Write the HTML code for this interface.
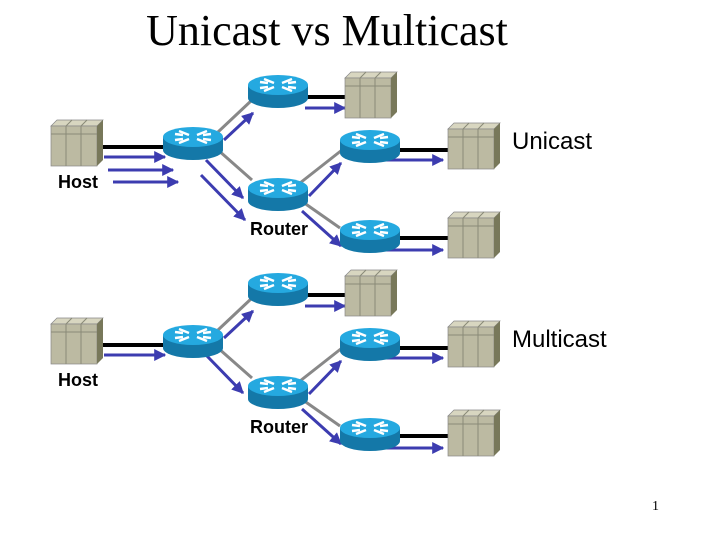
<!DOCTYPE html>
<html><head><meta charset="utf-8"><style>
body{margin:0;background:#fff;width:720px;height:540px;overflow:hidden}
svg{display:block}
</style></head><body>
<svg width="720" height="540" viewBox="0 0 720 540" xmlns="http://www.w3.org/2000/svg">
<defs>
<marker id="ah" viewBox="0 0 10 10" refX="9" refY="5" markerWidth="4" markerHeight="4" orient="auto"><path d="M0,0 L10,5 L0,10 z" fill="#3c3cb0"/></marker>
<g id="rt">
<path d="M-30,-5 L-30,8 A30,10 0 0 0 30,8 L30,-5 Z" fill="#1478a8"/>
<ellipse cx="0" cy="-5" rx="30" ry="10" fill="#25a9e0"/>
<g stroke="#fff" stroke-width="2.5" fill="none">
<path d="M-14,-11 L-4,-7 M14,-11 L4,-7 M-14,1 L-4,-3 M14,1 L4,-3"/>
<path d="M-18,-8 L-10,-7 M18,-8 L10,-7 M-18,-2 L-10,-3 M18,-2 L10,-3"/>
</g>
</g>
<g id="sv">
<path d="M0,6 L6,0 L52,0 L46,6 Z" fill="#d8d6c0" stroke="#888" stroke-width="0.7"/>
<rect x="0" y="6" width="46" height="40" fill="#bcbaa2" stroke="#888" stroke-width="0.7"/>
<path d="M46,6 L52,0 L52,40 L46,46 Z" fill="#78785a"/>
<path d="M0,14 L46,14 M15,6 L15,46 M30,6 L30,46 M21,0 L15,6 M36,0 L30,6" stroke="#8a8a78" stroke-width="1"/>
</g>
</defs>
<text x="327" y="45" font-family="Liberation Serif,serif" font-size="44" text-anchor="middle">Unicast vs Multicast</text>

<!-- UNICAST -->
<g>
<g stroke="#888" stroke-width="3"><path d="M218,132 L252,100 M218,150 L252,180 M300,183 L342,150 M300,200 L340,228"/></g>
<g stroke="#000" stroke-width="4"><path d="M103,147 L165,147 M305,97 L345,97 M398,150 L449,150 M398,238 L449,238"/></g>
<g stroke="#3c3cb0" stroke-width="3" marker-end="url(#ah)">
<path d="M104,157 L165,157"/><path d="M108,170 L173,170"/><path d="M113,182 L178,182"/>
<path d="M224,140 L253,113"/>
<path d="M206,160 L243,198"/><path d="M201,175 L245,220"/>
<path d="M305,108 L345,108"/>
<path d="M309,196 L341,163"/><path d="M302,211 L341,246"/>
<path d="M380,160 L443,160"/><path d="M380,250 L443,250"/>
</g>
<use href="#sv" x="51" y="120"/>
<use href="#rt" x="193" y="142"/>
<use href="#rt" x="278" y="90"/>
<use href="#rt" x="278" y="193"/>
<use href="#rt" x="370" y="145"/>
<use href="#rt" x="370" y="235"/>
<use href="#sv" x="345" y="72"/>
<use href="#sv" x="448" y="123"/>
<use href="#sv" x="448" y="212"/>
</g>

<!-- MULTICAST -->
<g transform="translate(0,198)">
<g stroke="#888" stroke-width="3"><path d="M218,132 L252,100 M218,150 L252,180 M300,183 L342,150 M300,200 L340,228"/></g>
<g stroke="#000" stroke-width="4"><path d="M103,147 L165,147 M305,97 L345,97 M398,150 L449,150 M398,238 L449,238"/></g>
<g stroke="#3c3cb0" stroke-width="3" marker-end="url(#ah)">
<path d="M104,157 L165,157"/>
<path d="M224,140 L253,113"/>
<path d="M206,157 L243,195"/>
<path d="M305,108 L345,108"/>
<path d="M309,196 L341,163"/><path d="M302,211 L341,246"/>
<path d="M380,160 L443,160"/><path d="M380,250 L443,250"/>
</g>
<use href="#sv" x="51" y="120"/>
<use href="#rt" x="193" y="142"/>
<use href="#rt" x="278" y="90"/>
<use href="#rt" x="278" y="193"/>
<use href="#rt" x="370" y="145"/>
<use href="#rt" x="370" y="235"/>
<use href="#sv" x="345" y="72"/>
<use href="#sv" x="448" y="123"/>
<use href="#sv" x="448" y="212"/>
</g>

<g font-family="Liberation Sans,sans-serif">
<text x="512" y="149" font-size="24">Unicast</text>
<text x="58" y="188" font-size="18" font-weight="bold">Host</text>
<text x="250" y="235" font-size="18" font-weight="bold">Router</text>
<text x="512" y="347" font-size="24">Multicast</text>
<text x="58" y="386" font-size="18" font-weight="bold">Host</text>
<text x="250" y="433" font-size="18" font-weight="bold">Router</text>
</g>
<text x="652" y="510" font-family="Liberation Serif,serif" font-size="14">1</text>
</svg>
</body></html>
